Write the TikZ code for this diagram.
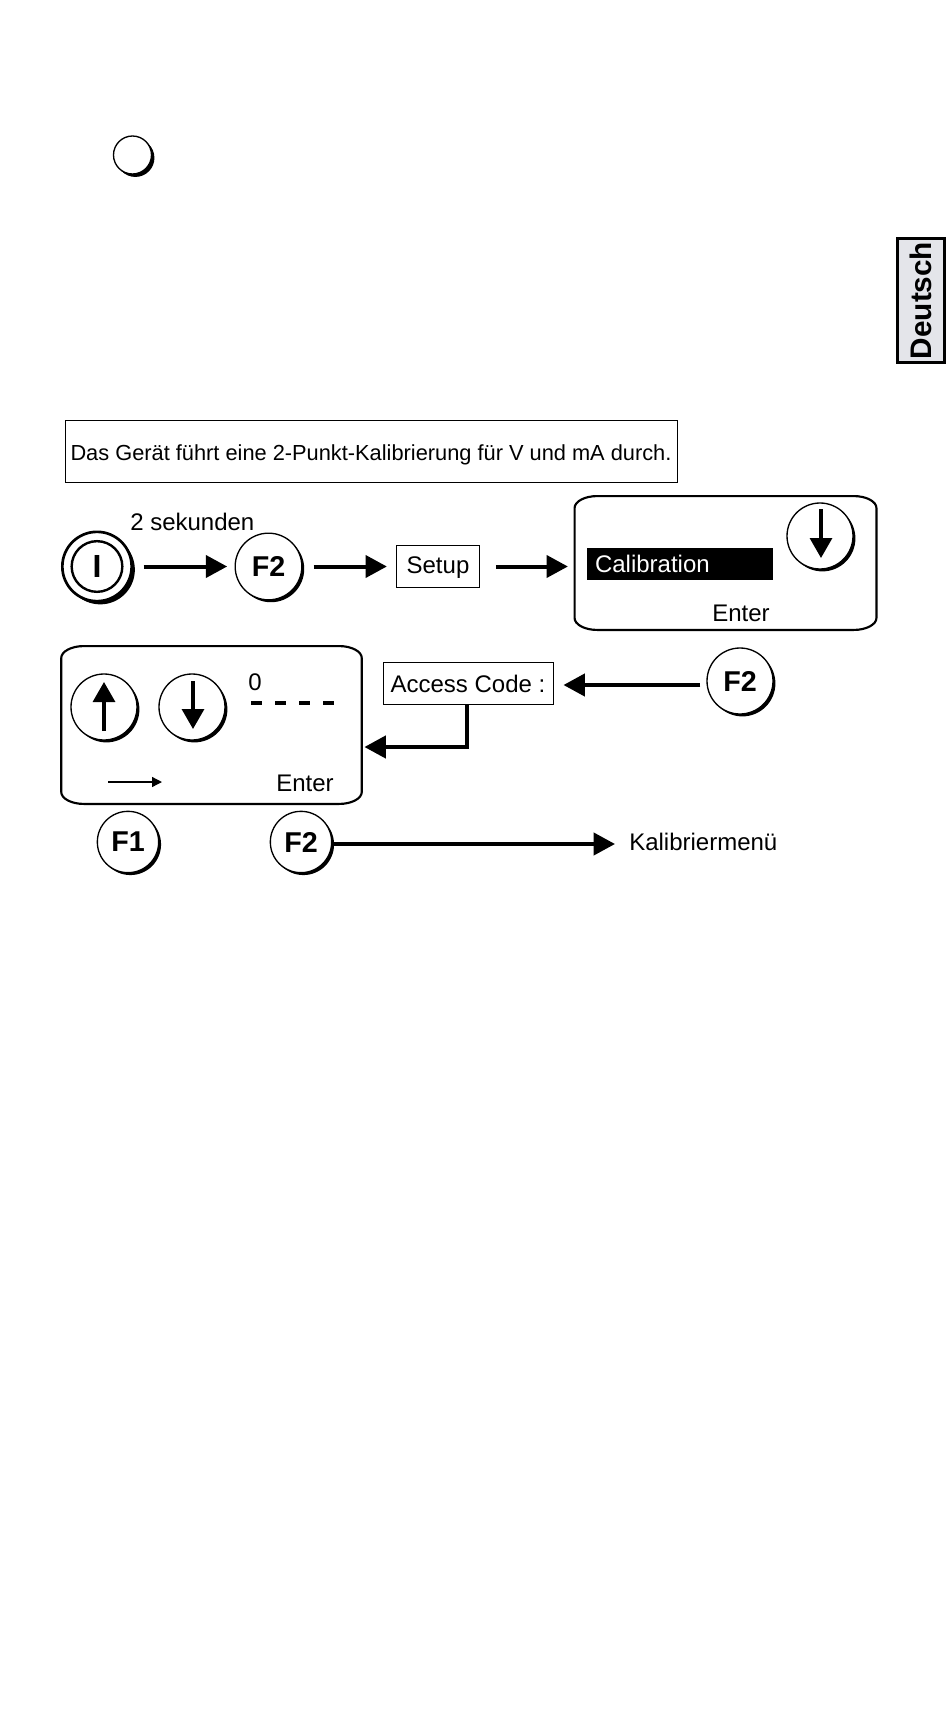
\documentclass[tikz,border=0pt]{standalone}
\usepackage{fontspec}
\setmainfont{Liberation Sans}
\usetikzlibrary{arrows.meta,positioning,calc,shadows}
\definecolor{tabgray}{RGB}{228,229,234}
\tikzset{
  flow/.style    = {-{Triangle[length=16pt,width=16.5pt]}, line width=3pt},
  symtip/.style  = {-{Triangle[length=15pt,width=16.5pt]}, line width=2.4pt},
  thintip/.style = {-{Triangle[length=7.5pt,width=7.5pt]}, line width=1pt},
  key/.style     = {draw, circle, fill=white, line width=1pt, inner sep=0pt,
                    minimum size=#1, font=\bfseries\fontsize{21.5}{21.5}\selectfont,
                    drop shadow={shadow xshift=1.8pt, shadow yshift=-1.8pt, fill=black, opacity=1}},
  label/.style   = {inner sep=0pt, anchor=base west, font=\fontsize{18}{18}\selectfont},
  textbox/.style = {draw, rectangle, line width=.7pt, inner sep=0pt, text depth=0pt, font=\fontsize{18}{18}\selectfont},
  screen/.style  = {rectangle, inner sep=0pt},
  screenline/.style = {line width=1.6pt}
}
% outline of a display, corners are flat ellipses
\newcommand{\screenoutline}[1]{
  \draw[screenline] ([xshift=17pt]#1.north west) -- ([xshift=-17pt]#1.north east)
    arc[start angle=90, end angle=0, x radius=17pt, y radius=9pt]
    -- ([yshift=9pt]#1.south east)
    arc[start angle=0, end angle=-90, x radius=17pt, y radius=9pt]
    -- ([xshift=17pt]#1.south west)
    arc[start angle=-90, end angle=-180, x radius=17pt, y radius=9pt]
    -- ([yshift=-9pt]#1.north west)
    arc[start angle=180, end angle=90, x radius=17pt, y radius=9pt] -- cycle;
}

\begin{document}
\begin{tikzpicture}[x=0.75pt, y=-0.75pt]
    \useasboundingbox (0,0) rectangle (950,1712);

    \node[key=28.5pt, drop shadow={shadow xshift=2.2pt, shadow yshift=-2.2pt, fill=black, opacity=1}] (blank) at (132.5,155) {};

    \node[draw, rectangle, fill=tabgray, line width=2pt, inner sep=0pt,
          minimum width=93pt, minimum height=35pt, rotate=90,
          font=\bfseries\fontsize{22.3}{22.3}\selectfont] (lang) at (921,300.5) {Deutsch};

    \node[textbox, minimum width=459pt, minimum height=46.5pt, text height=13.5pt,
          font=\fontsize{16.35}{16.35}\selectfont] (note) at (371,451)
      {Das Gerät führt eine 2-Punkt-Kalibrierung für V und mA durch.};

    % first row
    \node[key=52pt, line width=2pt, drop shadow={shadow xshift=2.4pt, shadow yshift=-2.4pt, fill=black, opacity=1}] (power) at (97,566.5) {};
    \node[circle, draw, line width=1.8pt, minimum size=38pt, inner sep=0pt,
          font=\bfseries\fontsize{24}{24}\selectfont] (powerin) at (power) {I};
    \node[key=50pt] (f2a) at (268.5,566.5) {F2};
    \node[textbox, minimum width=62pt, minimum height=31.5pt, text height=11pt] (setup) at (438,566.5) {Setup};
    \node[screen, minimum width=226pt, minimum height=100pt] (calib) at (725.5,563) {};
    \screenoutline{calib}
    \node[rectangle, fill=black, text=white, inner xsep=6pt, inner ysep=0pt, minimum height=24pt, text width=127.5pt,
          text height=12pt, text depth=0pt, align=left, font=\fontsize{18}{18}\selectfont] (calbar) at (680,564) {Calibration};
    \node[label] (calenter) at (712,621) {Enter};
    \node[key=49.5pt] (calkey) at (820,536) {};
    \draw[symtip] ($(calkey)+(1,-27)$) -- ($(calkey)+(1,22)$);

    \node[label] (twosec) at (130,530) {2 sekunden};

    \draw[flow, shorten <=8pt, shorten >=5.5pt] (power) -- (f2a);
    \draw[flow, shorten <=8.4pt, shorten >=7pt] (f2a) -- (setup);
    \draw[flow, shorten <=12pt, shorten >=5pt] (setup) -- (calib.west |- setup);

    % second row
    \node[key=49.5pt] (f2b) at (740,681) {F2};
    \node[textbox, minimum width=127.5pt, minimum height=31.5pt, text height=14.5pt] (access) at (468,683) {Access Code :};
    \node[screen, minimum width=225pt, minimum height=118pt] (code) at (211.5,725) {};
    \screenoutline{code}
    \node[key=49.5pt] (upkey) at (104,707) {};
    \draw[symtip] ($(upkey)+(0,24)$) -- ($(upkey)+(0,-25)$);
    \node[key=49.5pt] (downkey) at (192,707) {};
    \draw[symtip] ($(downkey)+(1,-26)$) -- ($(downkey)+(1,22)$);
    \node[label] (zero) at (248,690) {0};
    \draw[line width=3pt, dash pattern=on 8.3pt off 9.7pt] (251,703) -- (334,703);
    \coordinate (movea) at (108,782);
    \coordinate (moveb) at (162,782);
    \draw[thintip] (movea) -- (moveb);
    \node[label] (codeenter) at (276,791) {Enter};

    \draw[flow, shorten <=4.5pt, shorten >=7.5pt] ([yshift=-3pt]f2b.west) -- ([yshift=-1.5pt]access.east);
    \coordinate (elbow) at (467,747);
    \draw[flow, shorten >=2pt] (access.south -| elbow) -- (elbow) -- (code.east |- elbow);

    % third row
    \node[key=46pt] (f1) at (128,842) {F1};
    \node[key=46pt] (f2c) at (301,842) {F2};
    \node[label] (menu) at (629,850) {Kalibriermenü};
    \coordinate (menutip) at (615,844);
    \draw[flow] (f2c.east |- menutip) -- (menutip);
\end{tikzpicture}
\end{document}
